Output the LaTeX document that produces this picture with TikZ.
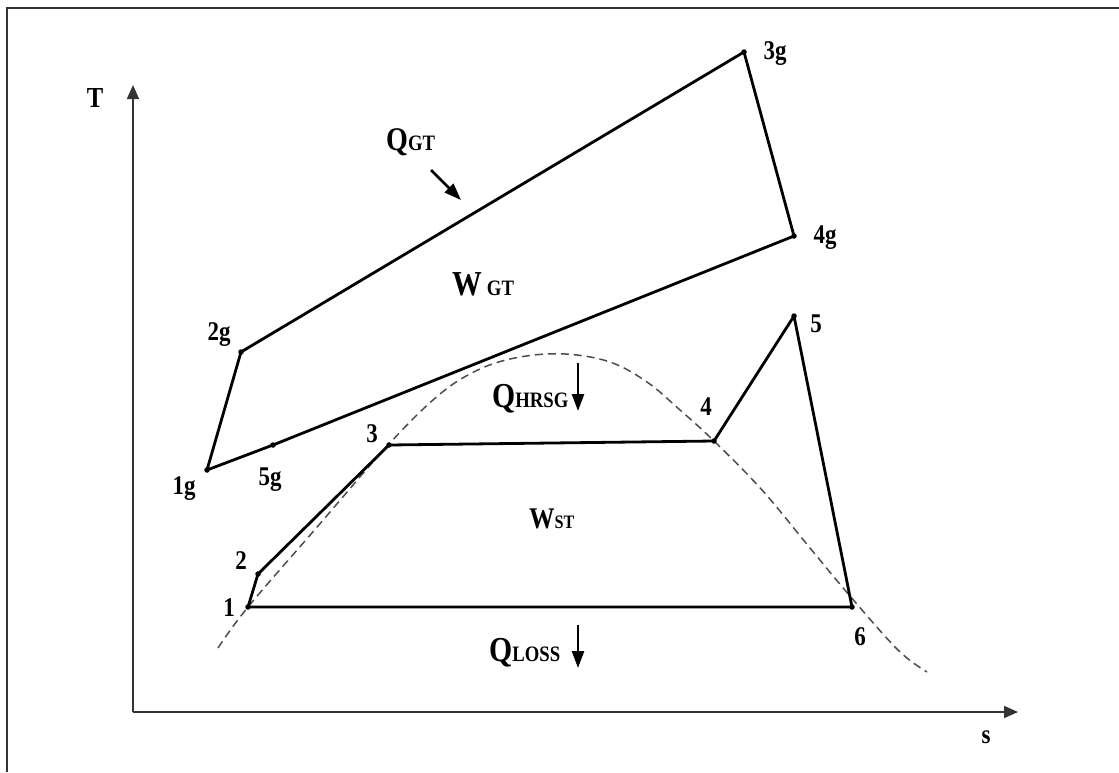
\documentclass[tikz,border=0pt]{standalone}
\usepackage{fontspec}
\setmainfont{Liberation Serif}[FakeStretch=0.85]
\usetikzlibrary{arrows.meta}
\begin{document}
\begin{tikzpicture}[x=1pt,y=-1pt,
  cyc/.style={line width=2.8pt, line join=round, line cap=round},
  axisline/.style={line width=1.8pt, draw=black!80, -{Triangle[length=14pt,width=12pt]}},
  qarrow/.style={line width=2.6pt, -{Triangle[length=17pt,width=12pt]}},
  sat/.style={dash pattern=on 8pt off 5pt, line width=1.5pt, draw=black!70},
  frameline/.style={line width=1.8pt, draw=black!80},
  lab/.style={inner sep=0pt, anchor=base, font=\fontsize{27}{27}\selectfont\bfseries},
  biglab/.style={inner sep=0pt, anchor=base west, font=\bfseries},
  dot/.style={circle, fill=black, inner sep=0pt, minimum size=5.5pt}]
\useasboundingbox (0,0) rectangle (1119,772);
% frame
\coordinate (fb) at (7,772);
\coordinate (ftl) at (7,8);
\coordinate (fr) at (1119,8);
\draw[frameline] (fb) -- (ftl) -- (fr);
% axes
\coordinate (o) at (133,712);
\coordinate (ty) at (133,85);
\coordinate (sx) at (1018,712);
\draw[axisline] (o) -- (ty);
\draw[axisline] (o) -- (sx);
\node[lab, font=\fontsize{29}{29}\selectfont\bfseries] (T) at (95,107) {T};
\node[lab] (s) at (986,743) {s};
% saturation dome
\draw[sat] plot[smooth, tension=0.6] coordinates {(218,648) (248,607) (318,526) (389,444) (440,394) (480,369) (520,357) (565,354) (610,362) (647,382) (680,410) (714,441) (762,490) (810,548) (850,596) (898,650) (927,672)};
% gas cycle points
\node[dot] (g1) at (207,470) {};
\node[dot] (g2) at (241,352) {};
\node[dot] (g3) at (744,52) {};
\node[dot] (g4) at (794,236) {};
\node[dot] (g5) at (273,445) {};
\draw[cyc] (g1.center) -- (g2.center) -- (g3.center) -- (g4.center) -- (g5.center) -- cycle;
% steam cycle points
\node[dot] (s1) at (248,607) {};
\node[dot] (s2) at (258,574) {};
\node[dot] (s3) at (389,445) {};
\node[dot] (s4) at (714,441) {};
\node[dot] (s5) at (794,316) {};
\node[dot] (s6) at (852,607) {};
\draw[cyc] (s1.center) -- (s2.center) -- (s3.center) -- (s4.center) -- (s5.center) -- (s6.center) -- cycle;
% point labels
\node[lab] (l1g) at (184,494) {1g};
\node[lab] (l2g) at (219,340) {2g};
\node[lab] (l3g) at (775,59) {3g};
\node[lab] (l4g) at (825,243) {4g};
\node[lab] (l5g) at (270,485) {5g};
\node[lab] (l1) at (229,616) {1};
\node[lab] (l2) at (241,569) {2};
\node[lab] (l3) at (372,442) {3};
\node[lab] (l4) at (706,415) {4};
\node[lab] (l5) at (816,332) {5};
\node[lab] (l6) at (860,645) {6};
% heat and work labels
\node[biglab] (qgt) at (386,150) {\fontsize{33}{33}\selectfont Q\fontsize{22}{22}\selectfont GT};
\node[biglab] (wgt) at (452,295) {\fontsize{35}{35}\selectfont W\hspace{5pt}\fontsize{22}{22}\selectfont GT};
\node[biglab] (qhrsg) at (492,407) {\fontsize{35}{35}\selectfont Q\fontsize{22}{22}\selectfont HRSG};
\node[biglab] (wst) at (529,528) {\fontsize{30}{30}\selectfont W\fontsize{19}{19}\selectfont ST};
\node[biglab] (qloss) at (489,661) {\fontsize{35}{35}\selectfont Q\fontsize{22}{22}\selectfont LOSS};
% heat arrows
\coordinate (agt1) at (431,170);
\coordinate (agt2) at (461,200);
\coordinate (ah1) at (578,363);
\coordinate (ah2) at (578,411);
\coordinate (al1) at (578,625);
\coordinate (al2) at (578,668);
\draw[qarrow] (agt1) -- (agt2);
\draw[qarrow] (ah1) -- (ah2);
\draw[qarrow] (al1) -- (al2);
\end{tikzpicture}
\end{document}
